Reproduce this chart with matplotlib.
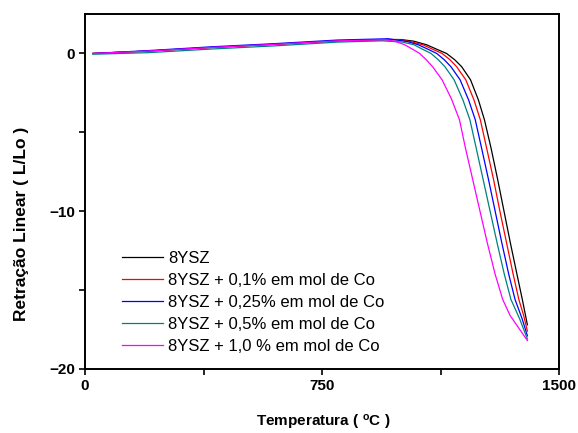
import matplotlib
matplotlib.use("Agg")
import matplotlib.pyplot as plt
from matplotlib.ticker import MultipleLocator

plt.rcParams['font.family'] = ['Liberation Sans', 'DejaVu Sans']
plt.rcParams['mathtext.fontset'] = 'custom'
plt.rcParams['mathtext.rm'] = 'Liberation Sans'
plt.rcParams['mathtext.bf'] = 'Liberation Sans:bold'

labels = ["8YSZ",
          "8YSZ + 0,1% em mol de Co",
          "8YSZ + 0,25% em mol de Co",
          "8YSZ + 0,5% em mol de Co",
          "8YSZ + 1,0 % em mol de Co"]
colors = ["#000000", "#ff0000", "#0000ff", "#008080", "#ff00ff"]

t_8ysz = [25, 200, 400, 600, 800, 950, 1000, 1040, 1081, 1115, 1144, 1170, 1192, 1220, 1245, 1264,
          1285, 1306, 1326, 1346, 1367, 1384, 1393, 1400]
y_8ysz = [0, 0.15, 0.38, 0.58, 0.8, 0.88, 0.88, 0.78, 0.55, 0.25, 0, -0.4, -0.84, -1.67, -2.95, -4.2,
          -6, -8, -10, -12, -14, -15.6, -16.5, -17.2]

t_co01 = [25, 200, 400, 600, 800, 950, 990, 1030, 1069, 1102, 1130, 1155, 1176, 1205, 1231, 1251,
          1271, 1293, 1313, 1334, 1355, 1373, 1388, 1400]
y_co01 = [0, 0.15, 0.38, 0.58, 0.8, 0.88, 0.88, 0.75, 0.55, 0.25, 0, -0.4, -0.84, -1.67, -2.95, -4.2,
          -6, -8, -10, -12, -14, -15.6, -16.6, -17.6]

t_co025 = [25, 200, 400, 600, 800, 960, 1020, 1055, 1087, 1113, 1137, 1158, 1187, 1214, 1235,
           1255, 1277, 1298, 1319, 1341, 1361, 1383, 1400]
y_co025 = [0, 0.18, 0.42, 0.62, 0.85, 0.93, 0.75, 0.55, 0.25, 0, -0.4, -0.84, -1.67, -2.95, -4.2,
           -6, -8, -10, -12, -14, -15.6, -16.8, -17.9]

t_co05 = [25, 200, 400, 600, 800, 940, 1005, 1041, 1070, 1095, 1118, 1139, 1168, 1196, 1218,
          1238, 1260, 1282, 1304, 1327, 1348, 1375, 1400]
y_co05 = [-0.05, 0.05, 0.28, 0.48, 0.72, 0.8, 0.72, 0.55, 0.25, 0, -0.4, -0.84, -1.67, -2.95, -4.2,
          -6, -8, -10, -12, -14, -15.6, -16.8, -18.1]

t_co10 = [25, 200, 400, 600, 800, 950, 980, 1012, 1038, 1059, 1080, 1100, 1130, 1160, 1185,
          1204, 1227, 1250, 1273, 1298, 1322, 1345, 1369, 1400]
y_co10 = [0, 0.15, 0.38, 0.58, 0.8, 0.87, 0.78, 0.55, 0.25, 0, -0.4, -0.84, -1.67, -2.9, -4.2,
          -6, -8, -10, -12, -14, -15.6, -16.6, -17.3, -18.2]

series_t = [t_8ysz, t_co01, t_co025, t_co05, t_co10]
series_y = [y_8ysz, y_co01, y_co025, y_co05, y_co10]

fig = plt.figure(figsize=(5.78, 4.33), dpi=100)
ax = fig.add_axes([85/578, 1-369/433, (559-85)/578, (369-14)/433])

for t, y, c, lab in zip(series_t, series_y, colors, labels):
    ax.plot(t, y, color=c, lw=0.9, label=lab)

ax.set_xlim(0, 1500)
ax.set_ylim(-20, 2.5)
ax.xaxis.set_major_locator(MultipleLocator(750))
ax.xaxis.set_minor_locator(MultipleLocator(375))
ax.yaxis.set_major_locator(MultipleLocator(10))
ax.yaxis.set_minor_locator(MultipleLocator(5))
ax.tick_params(which='both', direction='out', length=4.5, width=1.2,
               top=False, right=False)
ax.tick_params(axis='x', pad=3)
ax.tick_params(axis='y', pad=2.5)
for lab in ax.get_xticklabels() + ax.get_yticklabels():
    lab.set_fontweight('bold')
    lab.set_fontsize(11)
for sp in ax.spines.values():
    sp.set_linewidth(1.4)

ax.set_xlabel(r"Temperatura ( $\mathbf{^{o}C}$ )", fontsize=11, fontweight='bold')
ax.xaxis.set_label_coords(0.502, -0.124)
ax.set_ylabel("Retração Linear ( L/Lo )", fontsize=12.5, fontweight='bold')
ax.yaxis.set_label_coords(-0.118, 0.41)

leg = ax.legend(loc='upper left', bbox_to_anchor=(122/578, 1-251/433),
                bbox_transform=fig.transFigure, frameon=False, fontsize=12,
                handlelength=2.45, handletextpad=0.3, labelspacing=0.42,
                borderpad=0, borderaxespad=0)

fig.savefig("out.png", dpi=100)
